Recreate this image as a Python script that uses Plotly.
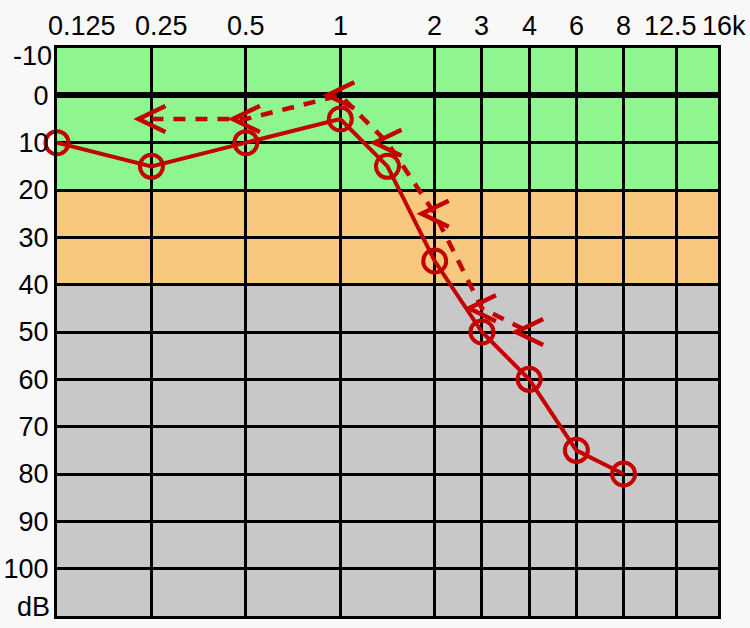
import numpy as np
import plotly.graph_objects as go

# Audiogram frequency labels (kHz) and hearing thresholds (dB HL)
label_freqs = [0.125, 0.25, 0.5, 1, 2, 3, 4, 6, 8, 12.5, 16]
label_text = ["0.125", "0.25", "0.5", "1", "2", "3", "4", "6", "8", "12.5", "16k"]

air_freqs = [0.125, 0.25, 0.5, 1, 1.5, 2, 3, 4, 6, 8]
air_db = [10, 15, 10, 5, 15, 35, 50, 60, 75, 80]

bone_freqs = [0.25, 0.5, 1, 1.5, 2, 3, 4]
bone_db = [5, 5, 0, 10, 25, 45, 50]

db_ticks = [0, 10, 20, 30, 40, 50, 60, 70, 80, 90, 100]

# Hearing-level zones: (top dB, bottom dB, colour)
zones = [(-10, 20, "#8ff68f"), (20, 40, "#f8c87f"), (40, 110, "#c8c8c8")]

RED = "#c40000"
FONT = "Liberation Sans, Arial, sans-serif"
FSIZE = 27

# Octave-spaced frequency scale, linear in frequency between octaves
octaves = [0.125, 0.25, 0.5, 1, 2, 4, 8, 16]


def fpos(f):
    return np.interp(f, octaves, np.arange(len(octaves)))


fig = go.Figure()

fig.add_trace(go.Scatter(
    x=fpos(bone_freqs), y=bone_db, mode="lines",
    line=dict(color=RED, width=4.5, dash="12px,10px"),
    hoverinfo="skip", cliponaxis=False,
))
fig.add_trace(go.Scatter(
    x=fpos(air_freqs), y=air_db, mode="lines+markers",
    line=dict(color=RED, width=4),
    marker=dict(symbol="circle-open", size=23, color=RED, line=dict(width=4, color=RED)),
    hoverinfo="skip", cliponaxis=False,
))

shapes = []
for y0, y1, col in zones:
    shapes.append(dict(type="rect", xref="paper", x0=0, x1=1, yref="y", y0=y0, y1=y1,
                       fillcolor=col, line=dict(width=0), layer="below"))

# Bone-conduction "<" symbols, sized in pixels around each data point
for f, d in zip(bone_freqs, bone_db):
    shapes.append(dict(type="path", xref="x", yref="y",
                       xsizemode="pixel", ysizemode="pixel",
                       xanchor=float(fpos(f)), yanchor=d,
                       path="M 14,13 L -13,0 L 14,-13",
                       line=dict(color=RED, width=4.5), layer="above"))

annotations = []
xshift = {0.125: 25, 0.25: 10, 12.5: -6, 16: 6}
for f, t in zip(label_freqs, label_text):
    annotations.append(dict(x=float(fpos(f)), xref="x", y=1, yref="paper",
                            text=t, showarrow=False, xanchor="center", yanchor="bottom",
                            xshift=xshift.get(f, 0), yshift=5,
                            font=dict(family=FONT, size=FSIZE, color="black")))
annotations.append(dict(x=0, xref="paper", y=-10, yref="y", text="-10", showarrow=False,
                        xanchor="right", yanchor="middle", xshift=-3, yshift=-8,
                        font=dict(family=FONT, size=FSIZE, color="black")))
annotations.append(dict(x=0, xref="paper", y=110, yref="y", text="dB", showarrow=False,
                        xanchor="right", yanchor="middle", xshift=-5, yshift=9,
                        font=dict(family=FONT, size=FSIZE, color="black")))

fig.update_layout(
    width=750, height=628,
    margin=dict(l=57, r=32, t=48, b=12, autoexpand=False),
    paper_bgcolor="#f8f8f8", plot_bgcolor="#c8c8c8",
    showlegend=False,
    shapes=shapes, annotations=annotations,
)
fig.update_xaxes(
    range=[0, len(octaves) - 1], tickvals=fpos(label_freqs), showticklabels=False,
    showgrid=True, gridcolor="black", gridwidth=3, zeroline=False, automargin=False,
    showline=True, linecolor="black", linewidth=3, mirror=True, ticks="",
)
fig.update_yaxes(
    range=[110, -10], tickvals=db_ticks, ticktext=[str(v) for v in db_ticks],
    tickfont=dict(family=FONT, size=FSIZE, color="black"), automargin=False,
    showgrid=True, gridcolor="black", gridwidth=3,
    zeroline=True, zerolinecolor="black", zerolinewidth=6,
    showline=True, linecolor="black", linewidth=3, mirror=True, ticks="",
)

fig.write_html("out.html")
